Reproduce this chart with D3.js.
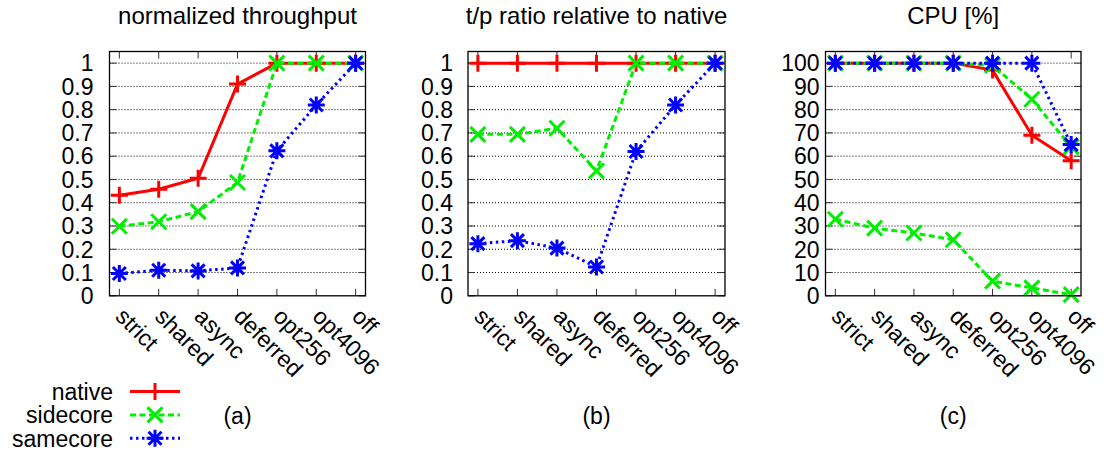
<!DOCTYPE html>
<html>
<head>
<meta charset="utf-8">
<script src="https://cdn.jsdelivr.net/npm/d3@7"></script>
<style>
  html, body { margin: 0; padding: 0; background: #fff; }
  svg { display: block; font-family: "Liberation Sans", Arial, Helvetica, sans-serif; }
</style>
</head>
<body>
<svg id="chart" width="1106" height="457"></svg>
<script>
// Modes of the I/O path, left to right
const categories = ["strict", "shared", "async", "deferred", "opt256", "opt4096", "off"];

// (a) normalized throughput
const tputNative   = [0.432, 0.458, 0.505, 0.910, 1.0, 1.0, 1.0];
const tputSidecore = [0.299, 0.318, 0.362, 0.487, 1.0, 1.0, 1.0];
const tputSamecore = [0.096, 0.110, 0.107, 0.120, 0.623, 0.820, 1.0];

// (b) throughput ratio relative to native
const ratioNative   = [1.0, 1.0, 1.0, 1.0, 1.0, 1.0, 1.0];
const ratioSidecore = [0.694, 0.694, 0.720, 0.537, 1.0, 1.0, 1.0];
const ratioSamecore = [0.224, 0.237, 0.205, 0.124, 0.620, 0.820, 1.0];

// (c) CPU utilization [%]; sidecore has two cores: the guest core and the side core
const cpuNative       = [100, 100, 100, 100, 97, 69, 58];
const cpuSidecoreVm   = [100, 100, 100, 100, 99, 84.5, 64];
const cpuSidecoreSide = [32.9, 29.1, 27.0, 24.1, 6.3, 3.4, 0.5];
const cpuSamecore     = [100, 100, 100, 100, 100, 100, 65];

// Y-axis ticks
const ratioTicks = [0, 0.1, 0.2, 0.3, 0.4, 0.5, 0.6, 0.7, 0.8, 0.9, 1];
const cpuTicks   = [0, 10, 20, 30, 40, 50, 60, 70, 80, 90, 100];

const legendNames = ["native", "sidecore", "samecore"];

// ---- styles ----
const styles = {
  native:   { color: "#ff0000", dash: null,    marker: "plus" },
  sidecore: { color: "#00ee00", dash: "6,3.5", marker: "cross" },
  samecore: { color: "#0000ff", dash: "2.5,3.5", marker: "star" }
};

const svg = d3.select("#chart");
const FONT = 23;

const panels = [
  { title: "normalized throughput", tag: "(a)", left: 109.5, right: 365.5, yMax: 1.05,
    ticks: ratioTicks, fmt: d3.format(".1~f"), labelGap: 16,
    series: [["native", tputNative], ["sidecore", tputSidecore], ["samecore", tputSamecore]] },
  { title: "t/p ratio relative to native", tag: "(b)", left: 468, right: 725, yMax: 1.05,
    ticks: ratioTicks, fmt: d3.format(".1~f"), labelGap: 15,
    series: [["native", ratioNative], ["sidecore", ratioSidecore], ["samecore", ratioSamecore]] },
  { title: "CPU [%]", tag: "(c)", left: 825.5, right: 1081, yMax: 105,
    ticks: cpuTicks, fmt: d3.format("d"), labelGap: 6,
    series: [["native", cpuNative], ["sidecore", cpuSidecoreVm], ["sidecore", cpuSidecoreSide], ["samecore", cpuSamecore]] }
];

const TOP = 51.5, BOTTOM = 295.8;

function drawMarker(g, kind, x, y, color) {
  const s = 8.5;
  const p = d3.path();
  if (kind === "plus" || kind === "star") {
    p.moveTo(x - s, y); p.lineTo(x + s, y);
    p.moveTo(x, y - s); p.lineTo(x, y + s);
  }
  if (kind === "cross" || kind === "star") {
    const d = kind === "star" ? 6.5 : 7.5;
    p.moveTo(x - d, y - d); p.lineTo(x + d, y + d);
    p.moveTo(x - d, y + d); p.lineTo(x + d, y - d);
  }
  g.append("path").attr("d", p.toString())
    .attr("stroke", color).attr("stroke-width", 3).attr("fill", "none");
}

panels.forEach(pn => {
  const x = d3.scalePoint().domain(categories).range([pn.left, pn.right]).padding(0.25);
  const y = d3.scaleLinear().domain([0, pn.yMax]).range([BOTTOM, TOP]);
  const g = svg.append("g");

  // grid
  g.append("g").selectAll("line")
    .data(pn.ticks.filter(t => t > 0))
    .join("line")
    .attr("x1", pn.left).attr("x2", pn.right)
    .attr("y1", d => y(d)).attr("y2", d => y(d))
    .attr("stroke", "#000").attr("stroke-width", 1).attr("stroke-dasharray", "1,2");

  // y tick marks (left and mirrored right)
  g.append("g").selectAll("path")
    .data(pn.ticks)
    .join("path")
    .attr("d", d => `M${pn.left},${y(d)}h7M${pn.right},${y(d)}h-7`)
    .attr("stroke", "#333").attr("stroke-width", 1);

  // x tick marks (bottom and mirrored top)
  g.append("g").selectAll("path")
    .data(categories)
    .join("path")
    .attr("d", d => `M${x(d)},${BOTTOM}v-7M${x(d)},${TOP}v7`)
    .attr("stroke", "#333").attr("stroke-width", 1);

  // y tick labels
  g.append("g").selectAll("text")
    .data(pn.ticks)
    .join("text")
    .attr("x", pn.left - pn.labelGap)
    .attr("y", d => y(d))
    .attr("dy", "0.36em")
    .attr("text-anchor", "end")
    .attr("font-size", FONT)
    .attr("fill", "#000")
    .text(d => pn.fmt(d));

  // x tick labels, rotated
  g.append("g").selectAll("text")
    .data(categories)
    .join("text")
    .attr("transform", d => `translate(${x(d) - 5},${BOTTOM + 22}) rotate(45)`)
    .attr("text-anchor", "start")
    .attr("font-size", FONT)
    .attr("fill", "#000")
    .text(d => d);

  // series
  pn.series.forEach(([name, vals]) => {
    const st = styles[name];
    const line = d3.line().x((d, i) => x(categories[i])).y(d => y(d));
    g.append("path").datum(vals)
      .attr("d", line)
      .attr("fill", "none")
      .attr("stroke", st.color)
      .attr("stroke-width", 3)
      .attr("stroke-dasharray", st.dash);
    vals.forEach((v, i) => drawMarker(g, st.marker, x(categories[i]), y(v), st.color));
  });

  // frame
  g.append("rect")
    .attr("x", pn.left).attr("y", TOP)
    .attr("width", pn.right - pn.left).attr("height", BOTTOM - TOP)
    .attr("fill", "none").attr("stroke", "#000").attr("stroke-width", 1.3);

  // title
  g.append("text")
    .attr("x", (pn.left + pn.right) / 2).attr("y", 23.5)
    .attr("text-anchor", "middle").attr("font-size", 24)
    .text(pn.title);

  // panel tag
  g.append("text")
    .attr("x", (pn.left + pn.right) / 2).attr("y", 424)
    .attr("text-anchor", "middle").attr("font-size", FONT)
    .text(pn.tag);
});

// legend
const legend = svg.append("g");
legendNames.forEach((name, i) => {
  const st = styles[name];
  const by = 400 + i * 23.4;
  const ly = by - 8.5;
  legend.append("text")
    .attr("x", 113).attr("y", by)
    .attr("text-anchor", "end").attr("font-size", FONT)
    .text(name);
  legend.append("line")
    .attr("x1", 130).attr("x2", 180).attr("y1", ly).attr("y2", ly)
    .attr("stroke", st.color).attr("stroke-width", 3)
    .attr("stroke-dasharray", st.dash);
  drawMarker(legend, st.marker, 155, ly, st.color);
});
</script>
</body>
</html>
